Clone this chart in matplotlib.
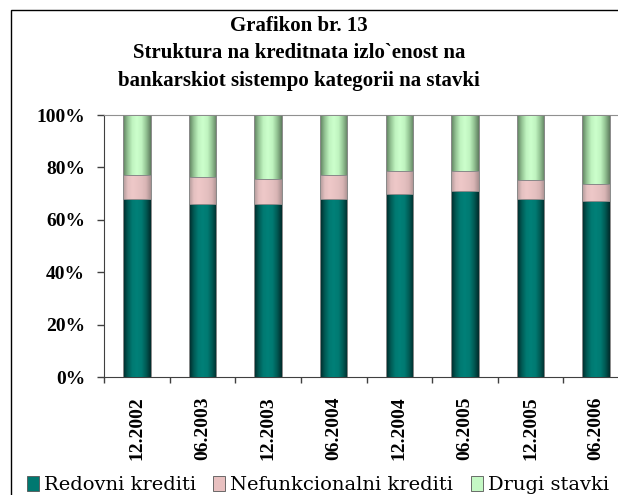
import numpy as np
import matplotlib
matplotlib.use("Agg")
from matplotlib import pyplot as plt
from matplotlib.colors import LinearSegmentedColormap
from matplotlib.patches import Patch, Rectangle

# data (percent of total)
periods = ["12.2002", "06.2003", "12.2003", "06.2004", "12.2004", "06.2005", "12.2005", "06.2006"]
redovni = [68.0, 66.0, 66.0, 68.0, 70.0, 71.0, 68.0, 67.0]
nefunk = [9.2, 10.3, 9.7, 9.2, 8.5, 7.5, 7.3, 6.8]
drugi = [100 - a - b for a, b in zip(redovni, nefunk)]

series_names = ["Redovni krediti", "Nefunkcionalni krediti", "Drugi stavki"]
title_lines = ["Grafikon br. 13",
               "Struktura na kreditnata izlo`enost na",
               "bankarskiot sistempo kategorii na stavki"]

W, H = 618, 495
fig = plt.figure(figsize=(W / 100, H / 100), dpi=100)

# outer chart border (runs off the right and bottom edges like the source)
fig.patches.append(Rectangle((11 / W, -0.1), 1.2, 1 - 10 / H + 0.1, transform=fig.transFigure,
                             fill=False, edgecolor="black", linewidth=1.0))

ax = fig.add_axes([104 / W, 1 - 377 / H, 525 / W, 262 / H])

x = np.arange(len(periods))
width = 0.42

flat = ["#007870", "#E8C0C0", "#C4F8C4"]
shades = [
    ["#002828", "#005a54", "#007a72", "#008078", "#007a72", "#005a54", "#002c2c"],
    ["#B09898", "#E4C0C0", "#EEC8C8", "#EAC4C4", "#E4C0C0", "#D8B4B4", "#A89090"],
    ["#5E7E5E", "#94C494", "#C0F4C0", "#CCFFCC", "#C0F4C0", "#94C494", "#607E60"],
]
grad = np.linspace(0, 1, 64).reshape(1, -1)

bottoms = np.zeros(len(periods))
for vals, col, sh in zip([redovni, nefunk, drugi], flat, shades):
    bars = ax.bar(x, vals, width, bottom=bottoms, color=col, edgecolor="none", zorder=2)
    cmap = LinearSegmentedColormap.from_list("g", sh)
    for r in bars:
        x0, y0 = r.get_xy()
        ax.imshow(grad, extent=[x0, x0 + r.get_width(), y0, y0 + r.get_height()],
                  aspect="auto", cmap=cmap, zorder=3, interpolation="bilinear")
    ax.bar(x, vals, width, bottom=bottoms, color="none", edgecolor="#8a8a8a",
           linewidth=0.7, zorder=4)
    bottoms += np.array(vals)

ax.set_xlim(-0.5, len(periods) - 0.5)
ax.set_ylim(0, 100)
ax.set_aspect("auto")

ax.set_yticks(np.arange(0, 101, 20))
ax.set_yticklabels([f"{v}%" for v in range(0, 101, 20)],
                   fontfamily="Liberation Serif", fontweight="bold", fontsize=14)
ax.tick_params(axis="y", direction="out", length=5, width=1, color="#404040", pad=8.5)

ax.set_xticks(x)
ax.set_xticklabels(periods, rotation=90, fontfamily="Liberation Serif",
                   fontweight="bold", fontsize=14)
ax.tick_params(axis="x", which="major", length=0, pad=14)
ax.set_xticks(np.arange(-0.5, len(periods), 1), minor=True)
ax.tick_params(axis="x", which="minor", direction="out", length=4, width=1, color="#404040")

ax.spines["top"].set_color("#909090")
ax.spines["right"].set_visible(False)
ax.spines["left"].set_color("#404040")
ax.spines["bottom"].set_color("#404040")

for i, line in enumerate(title_lines):
    fig.text(299 / W, 1 - (26 + 27.5 * i) / H, line, ha="center", va="center",
             fontfamily="Liberation Serif", fontweight="bold", fontsize=15)

handles = [Patch(facecolor=c, edgecolor="#555555", linewidth=0.6) for c in flat]
fig.legend(handles, series_names, loc="lower left", bbox_to_anchor=(19 / W, -7 / H),
           ncol=3, frameon=False, handlelength=0.62, handleheight=0.75,
           handletextpad=0.25, columnspacing=0.9,
           prop={"family": "DejaVu Serif", "size": 14}, borderaxespad=0)

fig.savefig("out.png", dpi=100)
